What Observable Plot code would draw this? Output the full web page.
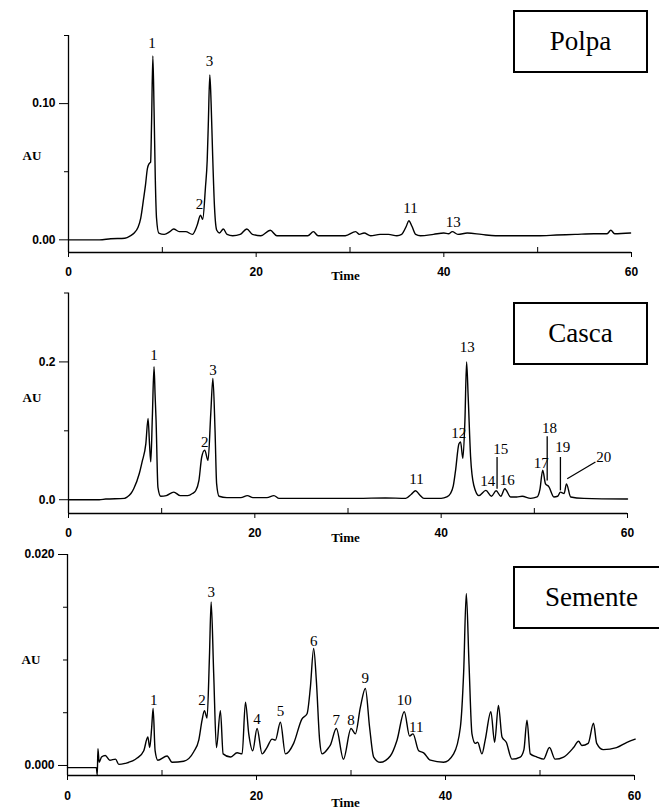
<!DOCTYPE html>
<html><head><meta charset="utf-8">
<script src="https://cdn.jsdelivr.net/npm/d3@7"></script>
<script src="https://cdn.jsdelivr.net/npm/@observablehq/plot@0.6"></script>
<style>
body{margin:0;background:#fff;}
#wrap{position:relative;width:659px;height:811px;overflow:hidden;background:#fff;}
.panel{position:absolute;left:0;}
.panel svg{overflow:visible;}
.box{position:absolute;border:2px solid #000;box-sizing:border-box;font-family:"Liberation Serif","Times New Roman",serif;font-size:27px;display:flex;align-items:center;justify-content:center;background:#fff;color:#000;}
</style></head><body>
<div id="wrap"></div>
<script>
// ---- Polpa ----
const polpaTime = [0,3.3,4.5,6.0,6.6,7.0,7.4,7.7,8.0,8.2,8.4,8.6,8.75,8.85,8.99,9.12,9.25,9.38,9.62,10.2,10.8,11.2,11.8,12.5,13.2,13.7,14.07,14.3,14.6,14.78,14.9,15.06,15.2,15.35,15.56,15.8,16.1,16.5,16.9,17.5,18.3,19.0,19.6,20.5,21.5,22.2,24.0,25.5,26.1,26.6,28.0,29.5,30.6,31.0,31.5,32.2,33.2,34.1,35.0,35.5,36.0,36.27,36.6,37.0,37.5,38.9,40.0,40.5,40.9,41.5,42.5,44.0,45.5,47.5,50.0,52.0,54.0,56.0,57.4,57.8,58.2,59.9];
const polpaAU   = [0,0,0.0008,0.0012,0.003,0.005,0.009,0.016,0.030,0.040,0.052,0.056,0.057,0.085,0.135,0.095,0.045,0.016,0.005,0.004,0.006,0.008,0.006,0.006,0.004,0.0105,0.018,0.015,0.039,0.058,0.085,0.121,0.10,0.065,0.024,0.007,0.005,0.008,0.004,0.003,0.004,0.008,0.004,0.003,0.007,0.003,0.003,0.003,0.006,0.003,0.003,0.003,0.006,0.004,0.005,0.003,0.004,0.004,0.003,0.004,0.010,0.014,0.010,0.004,0.003,0.004,0.005,0.0045,0.006,0.004,0.005,0.004,0.003,0.003,0.003,0.0035,0.004,0.0045,0.0045,0.007,0.0045,0.005];
const polpaPeak = ["1","2","3","11","13"];
const polpaPeakTime = [8.9,13.96,15.03,36.45,41.0];
const polpaPeakAU = [0.1443,0.026,0.131,0.023,0.0127];

// ---- Casca ----
const cascaTime = [0,3.3,4.0,6.0,6.3,6.7,7.0,7.6,7.9,8.3,8.54,8.7,8.83,9.0,9.18,9.3,9.4,9.6,9.9,10.5,11.3,12.0,12.8,13.3,13.65,14.0,14.3,14.62,14.98,15.27,15.5,15.73,15.9,16.16,17.0,18.5,19.2,19.8,21.3,22.05,22.6,25,28,31,34,36.2,36.8,37.25,37.7,38.15,40.0,40.6,41.0,41.3,41.55,41.9,42.08,42.33,42.55,42.73,42.9,43.16,43.5,44.05,44.8,45.4,45.9,46.4,46.83,47.45,48.1,48.7,49.6,50.3,50.6,50.9,51.2,51.55,52.1,52.5,52.8,53.2,53.45,53.9,55.3,60];
const cascaAU   = [0,0,0.001,0.002,0.004,0.009,0.016,0.038,0.055,0.081,0.118,0.08,0.055,0.12,0.193,0.15,0.115,0.018,0.005,0.006,0.011,0.006,0.006,0.009,0.013,0.028,0.062,0.072,0.057,0.125,0.176,0.10,0.023,0.005,0.003,0.003,0.006,0.003,0.003,0.006,0.002,0.002,0.002,0.002,0.0025,0.002,0.008,0.013,0.007,0.002,0.002,0.004,0.009,0.02,0.043,0.081,0.084,0.060,0.115,0.200,0.149,0.062,0.021,0.006,0.0135,0.005,0.013,0.005,0.016,0.004,0.004,0.005,0.002,0.004,0.015,0.043,0.023,0.019,0.004,0.005,0.011,0.009,0.023,0.004,0.002,0.001];
const cascaPeak = ["1","2","3","11","12","13","14","15","16","17","18","19","20"];
const cascaPeakTime = [9.18,14.62,15.5,37.36,41.9,42.8,45.0,46.4,47.1,50.74,51.63,53.06,57.46];
const cascaPeakAU = [0.21,0.084,0.188,0.0305,0.096,0.221,0.027,0.074,0.029,0.053,0.104,0.0765,0.062];
const cascaLeaderTime1 = [46.0,51.38,52.8,56.56];
const cascaLeaderAU1   = [0.062,0.092,0.062,0.0547];
const cascaLeaderTime2 = [46.0,51.38,52.8,53.53];
const cascaLeaderAU2   = [0.016,0.028,0.0135,0.0305];

// ---- Semente ----
const sementeTime = [0,3.05,3.15,3.22,3.35,3.6,4.0,4.48,5.08,5.43,6.1,7.37,8.07,8.5,8.7,8.9,9.06,9.27,9.55,10.54,11.07,12.3,13.36,13.89,14.24,14.49,14.77,15.02,15.2,15.47,15.76,16.18,16.47,17.24,17.95,18.48,18.83,19.18,19.6,20.06,20.59,21.1,21.65,22.0,22.53,23.06,23.93,24.8,25.35,25.7,26.05,26.33,26.68,26.94,27.64,27.8,28.45,29.2,30.0,30.46,30.99,31.52,31.97,32.4,33.1,34.16,34.87,35.64,36.2,36.56,37.16,37.69,38.4,39.8,40.86,41.57,41.92,42.2,42.49,42.8,43.15,43.4,43.86,44.2,44.8,45.2,45.6,45.98,46.43,47.03,47.91,48.3,48.62,48.97,49.68,50.38,51.0,51.6,52.5,53.55,54.08,54.43,55.1,55.66,56.0,56.7,58.1,59.2,60.07];
const sementeAU   = [-0.0002,-0.0002,-0.0009,0.0016,0.0003,0.0008,0.00095,0.0005,0.0006,0.0001,0.0002,0.0007,0.0014,0.0027,0.0017,0.0035,0.0054,0.0014,0.0005,0.0009,0.0003,0.0004,0.0013,0.0024,0.0043,0.0052,0.0045,0.0103,0.0155,0.0087,0.0017,0.0052,0.0011,0.0008,0.0012,0.0011,0.0060,0.0030,0.0014,0.0035,0.0011,0.0017,0.0025,0.0024,0.0041,0.0011,0.0021,0.0044,0.0049,0.0074,0.0111,0.0081,0.0024,0.0011,0.0017,0.0019,0.0035,0.0006,0.0035,0.0030,0.0055,0.0073,0.0036,0.0008,0.0003,0.0009,0.0024,0.0051,0.0028,0.0030,0.0014,0.0012,0.0005,0.0003,0.0011,0.0036,0.0088,0.0163,0.0096,0.0030,0.0021,0.0022,0.0011,0.0024,0.0051,0.0022,0.0057,0.0027,0.0022,0.0006,0.0008,0.0015,0.0043,0.0011,0.0008,0.0006,0.0017,0.0006,0.0008,0.0017,0.0023,0.0019,0.0021,0.0040,0.0021,0.0015,0.0017,0.0022,0.0025];
const sementePeak = ["1","2","3","4","5","6","7","8","9","10","11"];
const sementePeakTime = [9.13,14.24,15.2,20.06,22.53,26.05,28.45,30.0,31.52,35.64,36.9];
const sementePeakAU = [0.0062,0.0062,0.0164,0.0044,0.0051,0.0118,0.0043,0.0043,0.0083,0.0062,0.0036];

const xMajor = [0,20,40,60];
const xMinor = [10,30,50];
const sampleNames = ["Polpa","Casca","Semente"];

const SANS = "'Liberation Sans', Arial, sans-serif";
const SERIF = "'Liberation Serif', 'Times New Roman', serif";

function panel(o) {
  const data = o.time.map((t, i) => ({t, v: o.au[i]}));
  const peaks = o.peak.map((p, i) => ({p, t: o.peakTime[i], v: o.peakAU[i]}));
  const leaders = (o.lt1 || []).map((t, i) => ({t1: t, v1: o.lv1[i], t2: o.lt2[i], v2: o.lv2[i]}));
  const chart = Plot.plot({
    width: 659, height: o.height,
    marginTop: o.mt, marginBottom: o.mb, marginLeft: o.ml, marginRight: o.mr,
    x: {domain: [0, 60], label: null},
    y: {domain: o.yDomain, label: null},
    style: {background: "transparent", overflow: "visible", color: "#000"},
    marks: [
      Plot.ruleX([0], {stroke: "#000", strokeWidth: 1.3}),
      Plot.ruleY([o.yDomain[0]], {stroke: "#000", strokeWidth: 1.3}),
      Plot.axisY({ticks: o.yMajor, tickSize: 9, tickPadding: 4, tickFormat: d3.format(o.yFmt),
        fontSize: 12, fontWeight: "bold", fontFamily: SANS, label: null}),
      Plot.axisY({ticks: o.yMinor, tickSize: 4, tickFormat: () => "", label: null}),
      Plot.axisX({ticks: xMajor, tickSize: 5, tickPadding: o.xPad, tickFormat: d3.format("d"),
        fontSize: 12, fontWeight: "bold", fontFamily: SANS, label: null}),
      Plot.axisX({ticks: xMinor, tickSize: 5, dy: -5, tickFormat: () => "", label: null}),
      Plot.line(data, {x: "t", y: "v", stroke: "#000", strokeWidth: 1.4, curve: "monotone-x"}),
      Plot.link(leaders, {x1: "t1", y1: "v1", x2: "t2", y2: "v2", stroke: "#000", strokeWidth: 1.3}),
      Plot.text(peaks, {x: "t", y: "v", text: "p", fontSize: 15, fontFamily: SERIF, fill: "#000", lineAnchor: "middle"}),
      Plot.text(["Time"], {frameAnchor: "bottom", dx: o.timeDx, dy: o.timeDy, fontSize: 13, fontWeight: "bold", fontFamily: SERIF, fill: "#000", lineAnchor: "middle"}),
      Plot.text(["AU"], {frameAnchor: "left", dx: -46, dy: o.auDy, fontSize: 13, fontWeight: "bold", fontFamily: SERIF, fill: "#000", lineAnchor: "middle"})
    ]
  });
  const div = document.createElement("div");
  div.className = "panel";
  div.style.top = o.top + "px";
  div.appendChild(chart);
  document.getElementById("wrap").appendChild(div);

  const box = document.createElement("div");
  box.className = "box";
  box.textContent = o.name;
  Object.assign(box.style, {left: o.box[0] + "px", top: o.box[1] + "px", width: o.box[2] + "px", height: o.box[3] + "px", paddingLeft: (o.boxPad || 0) + "px"});
  document.getElementById("wrap").appendChild(box);
}

panel({name: sampleNames[0], time: polpaTime, au: polpaAU, peak: polpaPeak, peakTime: polpaPeakTime, peakAU: polpaPeakAU,
  top: 0, height: 288, mt: 35, mb: 36, ml: 68, mr: 28,
  yDomain: [-0.0093, 0.15], yMajor: [0, 0.1], yMinor: [0.05, 0.15], yFmt: ".2f",
  xPad: 10, timeDx: -4.5, timeDy: 23, auDy: 11.5, box: [513, 10, 135, 63]});

panel({name: sampleNames[1], time: cascaTime, au: cascaAU, peak: cascaPeak, peakTime: cascaPeakTime, peakAU: cascaPeakAU,
  lt1: cascaLeaderTime1, lv1: cascaLeaderAU1, lt2: cascaLeaderTime2, lv2: cascaLeaderAU2,
  top: 288, height: 260, mt: 4.5, mb: 35, ml: 68, mr: 32,
  yDomain: [-0.02, 0.3], yMajor: [0, 0.2], yMinor: [0.1, 0.3], yFmt: ".1f",
  xPad: 10, timeDx: -2.5, timeDy: 24, auDy: -5, box: [513, 302, 135, 63]});

panel({name: sampleNames[2], time: sementeTime, au: sementeAU, peak: sementePeak, peakTime: sementePeakTime, peakAU: sementePeakAU,
  top: 548, height: 263, mt: 6, mb: 36, ml: 67, mr: 25,
  yDomain: [-0.00095, 0.020], yMajor: [0, 0.02], yMinor: [0.005, 0.010, 0.015], yFmt: ".3f",
  xPad: 11, timeDx: -5.5, timeDy: 27, auDy: -5.5, box: [513, 566, 149, 63], boxPad: 8});
</script>
</body></html>
